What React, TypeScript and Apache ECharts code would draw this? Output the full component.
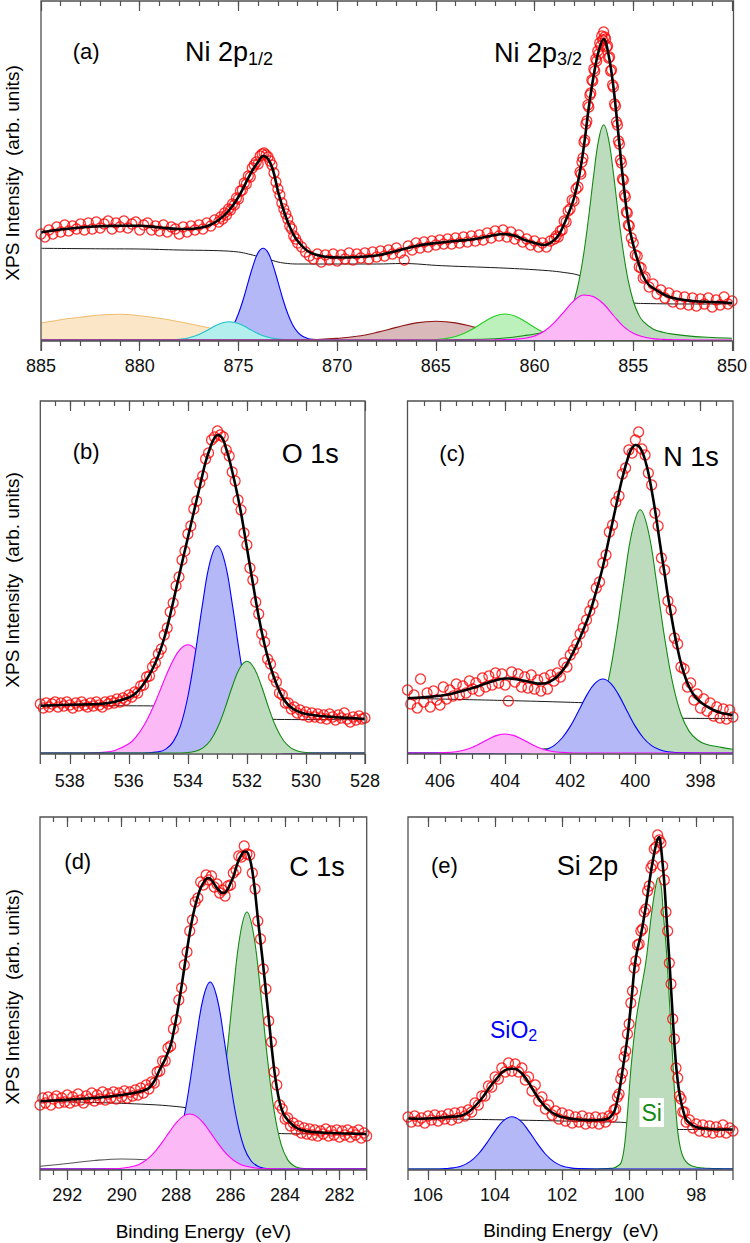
import React, { useEffect, useRef } from "react";
import * as echarts from "echarts";

type Pt = [number, number];

// ---------------- (a) Ni 2p ----------------
const niTicks = [885, 880, 875, 870, 865, 860, 855, 850];

const niPoints: Pt[] = [
  [885,106],[884.8,103],[884.6,110],[884.4,106],[884.2,113],[884,108],[883.8,115],[883.6,109],[883.4,114],[883.2,111],
  [883,116],[882.8,110],[882.6,117],[882.4,111],[882.2,118],[882,112],[881.8,116],[881.6,119],[881.4,111],[881.2,117],
  [881,113],[880.8,119],[880.6,112],[880.4,116],[880.2,118],[880,110],[879.8,115],[879.6,117],[879.4,110],[879.2,114],
  [879,109],[878.8,115],[878.6,108],[878.4,113],[878.2,111],[878,106],[877.8,113],[877.6,108],[877.4,114],[877.2,110],
  [877,115],[876.8,111],[876.6,117],[876.4,114],[876.2,120],[876,118],
  [875.9,123],[875.8,121],[875.7,127],[875.6,125],[875.5,131],[875.4,130],[875.3,136],[875.2,135],[875.1,142],[875,141],
  [874.9,149],[874.8,150],[874.7,157],[874.6,156],[874.5,164],[874.4,163],[874.3,172],[874.2,175],[874.1,178],[874,176],
  [873.9,184],[873.8,186],[873.7,187],[873.6,185],[873.5,183],[873.4,179],[873.3,175],[873.2,167],[873.1,158],[873,151],
  [872.9,145],[872.8,137],[872.7,131],[872.6,126],[872.5,121],[872.4,114],[872.3,111],[872.2,104],[872.1,101],[872,97],
  [871.8,93],[871.6,88],[871.4,84],[871.2,81],[871,86],[870.8,78],[870.6,85],[870.4,80],[870.2,86],[870,79],
  [869.8,85],[869.6,81],[869.4,87],[869.2,80],[869,86],[868.8,82],[868.6,87],[868.4,81],[868.2,88],[868,83],
  [867.8,89],[867.6,84],[867.4,90],[867.2,86],[867,92],[866.8,87],[866.6,80],[866.4,94],[866.2,90],[866,97],
  [865.8,92],[865.6,98],[865.4,93],[865.2,99],[865,95],[864.8,100],[864.6,96],[864.4,101],[864.2,96],[864,102],
  [863.8,97],[863.6,103],[863.4,98],[863.2,104],[863,99],[862.8,105],[862.6,100],[862.4,107],[862.2,102],[862,109],
  [861.8,104],[861.6,110],[861.4,103],[861.2,108],[861,101],[860.8,105],[860.6,98],[860.4,101],[860.2,95],[860,99],
  [859.8,93],[859.6,97],[859.4,93],[859.2,99],[859,101],
  [858.9,104],[858.8,103],[858.7,109],[858.6,110],[858.5,119],[858.4,118],[858.3,129],[858.2,131],[858.1,140],[858,139],
  [857.9,151],[857.8,153],[857.7,168],[857.65,166],[857.6,178],[857.55,182],[857.5,198],[857.45,200],[857.4,216],[857.35,219],
  [857.3,235],[857.25,233],[857.2,245],[857.15,247],[857.1,260],[857.05,259],[857,271],[856.95,269],[856.9,281],[856.85,279],
  [856.8,289],[856.75,286],[856.7,297],[856.65,294],[856.6,304],[856.55,300],[856.5,308],[856.45,303],[856.4,301],[856.35,293],
  [856.3,294],[856.25,282],[856.2,283],[856.15,269],[856.1,270],[856.05,255],[856,253],[855.95,236],[855.9,234],[855.85,218],
  [855.8,215],[855.75,199],[855.7,196],[855.65,180],[855.6,177],[855.55,161],[855.5,160],[855.45,145],[855.4,143],[855.35,128],
  [855.3,127],[855.25,115],[855.2,114],[855.1,102],[855,97],[854.9,85],[854.8,84],[854.7,73],[854.6,72],[854.5,62],
  [854.4,63],[854.2,53],[854,56],[853.8,46],[853.6,50],[853.4,42],[853.2,47],[853,38],[852.8,44],[852.6,36],
  [852.4,43],[852.2,35],[852,42],[851.8,34],[851.6,41],[851.4,36],[851.2,42],[851,33],[850.8,40],[850.6,35],
  [850.4,43],[850.2,36],[850,39],
];

const niEnvelope: Pt[] = [
  [885,107.7],[884,110.5],[883,112.5],[882,113.7],[881,114.3],[880,114.3],[879,112.5],[878,111],[877.5,111],[877,112],
  [876.5,114.5],[876,120],[875.5,129],[875,143],[874.5,162],[874.25,171],[874,178],[873.75,184],[873.5,181],[873.25,170],
  [873,149],[872.75,132],[872.5,118],[872.25,107],[872,99],[871.5,89],[871,85],[870.5,83],[870,82.5],[869,83],
  [868,84.5],[867,89],[866,94],[865,97],[864,99],[863,101],[862,105],[861.6,106],[861,104.3],[860.5,100],
  [860,97],[859.5,95],[859,100],[858.75,106],[858.5,116],[858.25,128],[858,142],[857.75,163],[857.5,194],[857.25,233],
  [857,265],[856.75,289],[856.5,301],[856.25,285],[856,252],[855.75,205],[855.5,157],[855.25,118],[855,95],[854.75,78],
  [854.5,64],[854.25,56],[854,52],[853.5,46],[853,42],[852,39],[851,38],[850,37],
];

const niBackground: Pt[] = [
  [885,91.7],[882,91.2],[880,91],[878,90],[876,89.3],[875,88],[874.5,86],[874,83.5],[873.5,81],[873,78],
  [872.5,76.5],[872,76],[868,76],[866.7,76.5],[864.7,74.3],[861.3,71.7],[859.3,69.3],[858.5,67.5],[857.8,65],[857.4,61],
  [857,55],[856.5,48],[856,42],[855.5,38.5],[855,37],[854.5,36.5],[852,36],[850,36],
];

const niSat881: Pt[] = [
  [885,17],[884,20.3],[883,22.7],[882,25],[881,25.7],[880,24.3],[879,21.7],[878,18.3],[877,14.3],[876,10.3],
  [875,7],[874,4.3],[873,2.5],[872,1.2],[871,0.5],[870,0.1],[869,0],[850,0],
];
const niSat875: Pt[] = [
  [885,0],[879,0],[878.5,0.2],[878,0.7],[877.5,2.3],[877,5.5],[876.5,10.6],[876,15.8],[875.5,18.3],[875,16.6],
  [874.5,11.6],[874,6.3],[873.5,2.8],[873,0.9],[872.5,0.3],[872,0],[850,0],
];
const niPeak874: Pt[] = [
  [885,0],[877,0],[876.5,0.1],[876.25,0.6],[876,1.6],[875.75,3.7],[875.5,7.9],[875.25,15.1],[875,26.2],[874.75,41],
  [874.5,58.4],[874.25,74.9],[874,87.4],[873.75,91.7],[873.5,87.4],[873.25,74.9],[873,58.4],[872.75,41],[872.5,26.2],[872.25,15.1],
  [872,7.9],[871.75,3.7],[871.5,1.6],[871.25,0.6],[871,0.1],[870.5,0],[850,0],
];
const niSat865: Pt[] = [
  [885,0],[873,0],[872,0.1],[871,0.5],[870,1.6],[869,3.7],[868,7.6],[867,12.6],[866,17.1],[865,18.7],
  [864,17.1],[863,12.6],[862,7.6],[861,3.7],[860,1.6],[859,0.5],[858,0.1],[857,0],[850,0],
];
const niSat861: Pt[] = [
  [885,0],[866,0],[865.5,0.1],[865,0.5],[864.5,1.5],[864,3.5],[863.5,7.3],[863,12.6],[862.5,18.8],[862,24.1],
  [861.5,26],[861,24.1],[860.5,18.8],[860,12.6],[859.5,7.3],[859,3.5],[858.5,1.5],[858,0.5],[857.5,0.1],[857,0],[850,0],
];
const niPeak856: Pt[] = [
  [885,0],[866,0],[864,0.4],[862,1.2],[860.5,4.5],[859.5,7.8],[859,11.1],[858.5,18.6],[858.25,26.2],[858,39],
  [857.75,58.8],[857.5,87.5],[857.25,124.5],[857,165.6],[856.75,200.7],[856.5,215.3],[856.25,200.7],[856,165.6],[855.75,124.5],[855.5,87.5],
  [855.25,58.8],[855,39],[854.75,26.2],[854.5,18.6],[854,11.1],[853.5,7.8],[853,5.9],[852,3.6],[851,2.5],[850,1.8],
];
const niPeak857: Pt[] = [
  [885,0],[863,0],[862,0.1],[861.5,0.35],[861,0.8],[860.5,1.8],[860,4],[859.5,9],[859,17.4],[858.5,28.4],
  [858,39.4],[857.5,45],[857,43.3],[856.5,36],[856,24.5],[855.5,13.6],[855,6.8],[854.5,3.2],[854,1.4],[853.5,0.6],
  [853,0.3],[852,0.05],[851,0],[850,0],
];

// ---------------- (b) O 1s ----------------
const o1sTicks = [538, 536, 534, 532, 530, 528];

const o1sPoints: Pt[] = [
  [539,49],[538.9,45],[538.8,50],[538.7,46],[538.6,49],[538.5,51],[538.4,46],[538.3,50],[538.2,47],[538.1,51],
  [538,48],[537.9,45],[537.8,50],[537.7,47],[537.6,51],[537.5,48],[537.4,46],[537.3,50],[537.2,47],[537.1,51],
  [537,48],[536.9,46],[536.8,51],[536.7,49],[536.6,52],[536.5,50],[536.4,54],[536.3,51],[536.2,55],[536.1,53],
  [536,58],[535.9,56],[535.8,61],[535.7,60],[535.6,67],[535.5,68],[535.4,76],[535.3,77],[535.2,86],[535.1,90],
  [535,99],[534.9,104],[534.8,118],[534.7,125],[534.6,141],[534.5,150],[534.4,167],[534.3,176],[534.2,193],[534.1,202],
  [534,219],[533.9,227],[533.8,244],[533.7,252],[533.6,270],[533.5,277],[533.4,294],[533.3,300],[533.2,313],[533.1,316],
  [533,322],[532.9,318],[532.8,316],[532.7,303],[532.6,297],[532.5,281],[532.4,272],[532.3,253],[532.2,243],[532.1,220],
  [532,208],[531.9,185],[531.8,173],[531.7,151],[531.6,139],[531.5,119],[531.4,111],[531.3,94],[531.2,89],[531.1,76],
  [531,71],[530.9,60],[530.8,58],[530.7,50],[530.6,50],[530.5,44],[530.4,46],[530.3,40],[530.2,43],[530.1,38],
  [530,41],[529.9,36],[529.8,40],[529.7,36],[529.6,39],[529.5,35],[529.4,38],[529.3,34],[529.2,39],[529.1,36],
  [529,33],[528.9,38],[528.8,35],[528.7,40],[528.6,34],[528.5,31],[528.4,36],[528.3,33],[528.2,37],[528.1,34],
  [528,35],
];

const o1sEnvelope: Pt[] = [
  [539,47.3],[538,48.3],[537,49],[536.5,51],[536,55.5],[535.8,59],[535.6,65],[535.4,73.5],[535.2,84],[535,97.5],
  [534.8,115],[534.6,138],[534.4,164],[534.2,190],[534,215.5],[533.8,241],[533.6,266],[533.4,291],[533.2,309],[533.1,315],
  [533,318],[532.9,317],[532.8,313],[532.7,304],[532.6,294],[532.4,269],[532.2,240],[532,205],[531.8,170],[531.6,136],
  [531.4,108],[531.2,86],[531,69],[530.8,56],[530.6,48],[530.4,43.5],[530.2,40.7],[530,39],[529.5,37],[529,35.8],
  [528.5,35],[528,34],
];

const o1sBackground: Pt[] = [
  [539,47.3],[536,47.2],[535,47],[534.5,46.5],[534,45.5],[533.5,43.5],[533,40.5],[532.5,37.5],[532,35.5],[531.5,34.2],
  [531,33.6],[530,33.4],[528,33.3],
];

const o1sPeak534: Pt[] = [
  [539,0],[537.5,0],[537,0.4],[536.5,2.3],[536,9.2],[535.75,16.4],[535.5,27],[535.25,41.3],[535,58.4],[534.75,76.6],
  [534.5,92.8],[534.25,104.2],[534,108.3],[533.75,104.2],[533.5,92.8],[533.25,76.6],[533,58.4],[532.75,41.3],[532.5,27],[532.25,16.4],
  [532,9.2],[531.5,2.3],[531,0.4],[530.5,0],[528,0],
];
const o1sPeak533: Pt[] = [
  [539,0],[535.5,0],[535,1.1],[534.75,3.9],[534.5,11.1],[534.25,27.2],[534,56.5],[533.75,99.7],[533.5,149.7],[533.25,191.1],
  [533,207.3],[532.75,191.1],[532.5,149.7],[532.25,99.7],[532,56.5],[531.75,27.2],[531.5,11.1],[531.25,3.9],[531,1.1],[530.5,0],[528,0],
];
const o1sPeak532: Pt[] = [
  [539,0],[534.5,0],[534,0.5],[533.75,1.7],[533.5,4.9],[533.25,12],[533,24.9],[532.75,44.1],[532.5,66.2],[532.25,84.5],
  [532,91.7],[531.75,84.5],[531.5,66.2],[531.25,44.1],[531,24.9],[530.75,12],[530.5,4.9],[530.25,1.7],[530,0.5],[529.5,0],[528,0],
];

// ---------------- (c) N 1s ----------------
const n1sTicks = [406, 404, 402, 400, 398];

const n1sPoints: Pt[] = [
  [407,63],[406.9,49],[406.8,58],[406.7,45],[406.6,74],[406.5,51],[406.4,60],[406.3,46],[406.2,62],[406.1,53],
  [406,48],[405.9,66],[405.8,54],[405.7,63],[405.6,57],[405.5,69],[405.4,58],[405.3,67],[405.2,60],[405.1,72],
  [405,64],[404.9,70],[404.8,62],[404.7,75],[404.6,66],[404.5,77],[404.4,68],[404.3,80],[404.2,70],[404.1,79],
  [404,68],[403.9,52],[403.8,81],[403.7,71],[403.6,79],[403.5,66],[403.4,76],[403.3,65],[403.2,78],[403.1,64],
  [403,73],[402.9,62],[402.8,75],[402.7,64],[402.6,78],[402.5,72],[402.4,80],[402.3,76],[402.2,90],[402.1,86],
  [402,98],[401.9,103],[401.8,109],[401.7,119],[401.6,125],[401.5,133],[401.4,142],[401.3,149],[401.2,165],[401.1,171],
  [401,190],[400.9,198],[400.8,221],[400.7,228],[400.6,251],[400.5,257],[400.4,279],[400.3,285],[400.2,303],[400.1,300],
  [400,313],[399.9,321],[399.8,304],[399.7,298],[399.6,280],[399.5,268],[399.4,240],[399.3,227],[399.2,195],[399.1,183],
  [399,152],[398.9,143],[398.8,115],[398.7,109],[398.6,86],[398.5,84],[398.4,66],[398.3,70],[398.2,53],[398.1,59],
  [398,45],[397.9,54],[397.8,42],[397.7,50],[397.6,37],[397.5,46],[397.4,35],[397.3,44],[397.2,34],[397.1,43],
  [397,36],
];

const n1sEnvelope: Pt[] = [
  [407,54.7],[406.5,55.8],[406,57.2],[405.5,60.5],[405,65],[404.5,70.5],[404.2,73.4],[404,74.5],[403.8,74.4],[403.6,73.5],
  [403.4,72.2],[403.2,70.8],[403,69.4],[402.8,69.5],[402.6,71.8],[402.4,76.5],[402.2,84],[402,95],[401.8,108],[401.6,123],
  [401.4,140],[401.2,162],[401,186],[400.8,216],[400.6,246],[400.4,275],[400.2,298],[400.1,305],[400,308],[399.9,307],
  [399.8,302],[399.7,293],[399.6,280],[399.5,263],[399.4,244],[399.3,222],[399.2,200],[399.1,179],[399,157],[398.9,138],
  [398.8,120],[398.7,104],[398.6,90],[398.5,79],[398.4,70],[398.3,63],[398.2,58],[398.1,54],[398,51],[397.8,46.5],
  [397.6,43],[397.4,40.5],[397.2,39],[397,38],
];

const n1sBackground: Pt[] = [
  [407,54.7],[404,52.5],[402,50.7],[401.5,50],[401,48.5],[400.5,45.5],[400,41],[399.5,37],[399,35.2],[398.5,34.7],[397,34.5],
];

const n1sPeak404: Pt[] = [
  [407,0],[406.2,0],[406,0.17],[405.5,1.3],[405.25,3],[405,5.8],[404.75,9.8],[404.5,14.1],[404.25,17.6],[404,19],
  [403.75,17.6],[403.5,14.1],[403.25,9.8],[403,5.8],[402.75,3],[402.5,1.3],[402,0.17],[401.8,0],[397,0],
];
const n1sPeak401: Pt[] = [
  [407,0],[403.5,0],[403,1.2],[402.75,3.2],[402.5,7.4],[402.25,15],[402,26.6],[401.75,41.7],[401.5,57.4],[401.25,69.4],
  [401,74],[400.75,69.4],[400.5,57.4],[400.25,41.7],[400,26.6],[399.75,15],[399.5,7.4],[399.25,3.2],[399,1.2],[398.5,0.1],
  [398,0],[397,0],
];
const n1sPeak400: Pt[] = [
  [407,0],[404.5,0],[403.85,1.5],[402.85,4],[402.35,5.6],[401.85,9.1],[401.6,13.3],[401.35,21.9],[401.1,39],[400.85,69.3],
  [400.6,115],[400.35,171],[400.1,221.7],[399.85,243.3],[399.6,221.7],[399.35,171],[399.1,115],[398.85,69.3],[398.6,39],[398.35,21.9],
  [398.1,13.3],[397.85,9.1],[397.35,5.6],[397,3.8],
];

// ---------------- (d) C 1s ----------------
const c1sTicks = [292, 290, 288, 286, 284, 282];

const c1sPoints: Pt[] = [
  [293,64],[292.9,71],[292.8,66],[292.7,72],[292.6,64],[292.5,70],[292.4,73],[292.3,66],[292.2,71],[292.1,67],
  [292,74],[291.9,66],[291.8,72],[291.7,68],[291.6,75],[291.5,69],[291.4,66],[291.3,73],[291.2,70],[291.1,76],
  [291,68],[290.9,74],[290.8,70],[290.7,77],[290.6,69],[290.5,75],[290.4,71],[290.3,77],[290.2,70],[290.1,76],
  [290,72],[289.9,78],[289.8,71],[289.7,77],[289.6,73],[289.5,79],[289.4,74],[289.3,81],[289.2,76],[289.1,84],
  [289,80],[288.9,87],[288.8,86],[288.7,97],[288.6,98],[288.5,108],[288.4,108],[288.3,121],[288.2,123],[288.1,140],
  [288,149],[287.9,169],[287.8,181],[287.7,204],[287.6,217],[287.5,238],[287.4,249],[287.3,267],[287.2,271],[287.1,287],
  [287,284],[286.9,294],[286.8,289],[286.7,293],[286.6,282],[286.5,285],[286.4,276],[286.3,279],[286.2,273],[286.1,283],
  [286,284],[285.9,296],[285.8,299],[285.7,313],[285.6,312],[285.5,323],[285.4,315],[285.3,314],[285.2,296],[285.1,280],
  [285,248],[284.9,230],[284.8,200],[284.7,180],[284.6,148],[284.5,127],[284.4,97],[284.3,84],[284.2,64],[284.1,60],
  [284,50],[283.9,51],[283.8,43],[283.7,46],[283.6,39],[283.5,43],[283.4,36],[283.3,41],[283.2,35],[283.1,40],
  [283,34],[282.9,39],[282.8,33],[282.7,38],[282.6,35],[282.5,40],[282.4,33],[282.3,38],[282.2,34],[282.1,39],
  [282,32],[281.9,38],[281.8,34],[281.7,39],[281.6,32],[281.5,37],[281.4,34],[281.3,39],[281.2,31],[281.1,36],
  [281,33],
];

const c1sEnvelope: Pt[] = [
  [293,67.7],[292,69.3],[291,71],[290,74],[289.5,76.3],[289.2,78.5],[289,81],[288.8,88],[288.6,99.5],[288.4,110],
  [288.2,124],[288.1,136],[288,150],[287.9,166],[287.8,183],[287.7,201],[287.6,219],[287.5,236],[287.4,251],[287.3,263],
  [287.2,273],[287.1,281],[287,286],[286.9,290],[286.8,291],[286.7,289],[286.6,285],[286.5,281],[286.4,278],[286.3,276],
  [286.2,276.5],[286.1,280],[286,286],[285.9,292],[285.8,301],[285.7,309],[285.6,314],[285.5,317.5],[285.4,317],[285.3,311],
  [285.2,298],[285.1,277],[285,251],[284.9,227],[284.8,203],[284.7,177],[284.6,151],[284.5,124],[284.4,100],[284.3,81],
  [284.2,67],[284.1,58],[284,52.5],[283.8,46],[283.6,41.5],[283.4,39],[283,37],[282.5,36.3],[282,35.8],[281,35],
];

const c1sBackground: Pt[] = [
  [293,67.7],[291,66.5],[289,64.5],[288,62.5],[287.5,60.5],[287,57],[286.5,53],[286,48.5],[285.5,44],[285,39.5],
  [284.5,36.5],[284,35.3],[281,35],
];

const c1sPeak290: Pt[] = [
  [293,2.7],[292,5.5],[291,8.5],[290,10],[289,9],[288,6],[287,3],[286,1],[285,0.2],[284,0],[281,0],
];
const c1sPeak287: Pt[] = [
  [293,0],[291,0],[290.5,0.1],[290,0.7],[289.5,3.2],[289.25,6.3],[289,11.2],[288.75,18.2],[288.5,27.1],[288.25,36.9],
  [288,46.1],[287.75,52.6],[287.5,55],[287.25,52.6],[287,46.1],[286.75,36.9],[286.5,27.1],[286.25,18.2],[286,11.2],[285.75,6.3],
  [285.5,3.2],[285,0.7],[284.5,0.1],[284,0],[281,0],
];
const c1sPeak286: Pt[] = [
  [293,0],[289,0],[288.75,0.7],[288.5,2.7],[288.25,8.2],[288,21.3],[287.75,46.6],[287.5,85.6],[287.25,132.2],[287,171.5],
  [286.75,187],[286.5,171.5],[286.25,132.2],[286,85.6],[285.75,46.6],[285.5,21.3],[285.25,8.2],[285,2.7],[284.75,0.7],[284.5,0],[281,0],
];
const c1sPeak285: Pt[] = [
  [293,0],[288,0],[287.4,0.7],[287.15,2.7],[286.9,9.1],[286.65,25.1],[286.4,58.1],[286.15,111.6],[285.9,177.4],[285.65,234],
  [285.4,257],[285.15,234],[284.9,177.4],[284.65,111.6],[284.4,58.1],[284.15,25.1],[283.9,9.1],[283.65,2.7],[283.4,0.7],[282.9,0],[281,0],
];

// ---------------- (e) Si 2p ----------------
const si2pTicks = [106, 104, 102, 100, 98];

const si2pPoints: Pt[] = [
  [106.6,52],[106.5,47],[106.4,53],[106.3,48],[106.2,51],[106.1,46],[106,53],[105.9,49],[105.8,54],[105.7,48],
  [105.6,53],[105.5,50],[105.4,55],[105.3,49],[105.2,56],[105.1,51],[105,57],[104.9,53],[104.8,59],[104.7,57],
  [104.6,66],[104.5,64],[104.4,73],[104.3,73],[104.2,83],[104.1,82],[104,92],[103.9,90],[103.8,101],[103.7,97],
  [103.6,106],[103.5,98],[103.4,105],[103.3,97],[103.2,101],[103.1,89],[103,92],[102.9,78],[102.8,84],[102.7,68],
  [102.6,72],[102.5,60],[102.4,64],[102.3,54],[102.2,58],[102.1,50],[102,56],[101.9,48],[101.8,54],[101.7,46],
  [101.6,52],[101.5,47],[101.4,53],[101.3,45],[101.2,51],[101.1,46],[101,52],[100.9,45],[100.8,51],[100.7,47],
  [100.6,53],[100.5,52],
  [100.45,59],[100.4,60],[100.35,72],[100.3,75],[100.25,90],[100.2,96],[100.15,112],[100.1,118],[100.05,135],[100,145],
  [99.95,166],[99.9,178],[99.85,201],[99.8,208],[99.75,224],[99.7,225],[99.65,238],[99.6,240],[99.55,257],[99.5,260],
  [99.45,278],[99.4,283],[99.35,301],[99.3,304],[99.25,320],[99.2,322],[99.15,334],[99.1,329],[99.05,326],[99,303],
  [98.95,289],[98.9,257],[98.85,238],[98.8,206],[98.75,185],[98.7,150],[98.65,130],[98.6,101],[98.55,91],[98.5,73],
  [98.45,70],[98.4,57],[98.35,57],[98.3,47],
  [98.2,49],[98.1,41],[98,45],[97.9,38],[97.8,44],[97.7,37],[97.6,43],[97.5,36],[97.4,42],[97.3,37],
  [97.2,44],[97.1,36],[97,41],[96.9,38],
];

const si2pEnvelope: Pt[] = [
  [106.6,50.5],[106.2,50.3],[105.8,50.9],[105.4,52.1],[105.1,52.8],[105,53.5],[104.9,54.8],[104.8,56.8],[104.7,59.5],[104.6,62.8],
  [104.5,66.5],[104.4,70.5],[104.3,75],[104.2,80],[104.1,84.5],[104,88.5],[103.9,92.5],[103.8,96.5],[103.7,98.8],[103.6,99.8],
  [103.5,100.2],[103.4,100],[103.3,98.5],[103.2,95.5],[103.1,91.5],[103,86.5],[102.9,81],[102.8,75.5],[102.7,70.5],[102.6,66],
  [102.5,62],[102.4,59],[102.3,56.5],[102.2,54.5],[102.1,53],[102,52],[101.8,50.6],[101.6,49.7],[101.4,49.2],[101.2,48.9],
  [101,48.8],[100.8,49.2],[100.7,49.8],[100.6,51],[100.5,54.5],[100.45,57],[100.4,62],[100.35,69],[100.3,77],[100.25,87],
  [100.2,98],[100.15,109],[100.1,120],[100.05,132],[100,147],[99.95,163],[99.9,180],[99.85,198],[99.8,211],[99.75,220],
  [99.7,227],[99.65,234],[99.6,243],[99.55,253],[99.5,263],[99.45,274],[99.4,286],[99.35,297],[99.3,307],[99.25,316],
  [99.2,324],[99.15,330],[99.1,332],[99.05,322],[99,305],[98.95,286],[98.9,260],[98.85,234],[98.8,209],[98.75,181],
  [98.7,153],[98.65,126],[98.6,104],[98.55,88],[98.5,76],[98.45,67],[98.4,60],[98.35,54],[98.3,49.5],[98.2,46],
  [98.1,43.5],[98,42],[97.8,40.5],[97.5,39.8],[97.2,39.5],[96.9,39.5],
];

const si2pBackground: Pt[] = [
  [106.6,50.5],[104,49.3],[102,48],[100.3,46.8],[100,46],[99.7,44.8],[99.4,43],[99.1,41],[98.8,39.8],[98.5,39.5],[96.9,39.5],
];

const si2pOxide: Pt[] = [
  [106.6,0],[105.75,0],[105.5,0.4],[105.25,1.1],[105,3.1],[104.75,7.4],[104.5,15],[104.25,25.9],[104,38.2],[103.75,48.3],
  [103.5,52.2],[103.25,48.3],[103,38.2],[102.75,25.9],[102.5,15],[102.25,7.4],[102,3.1],[101.75,1.1],[101.5,0.4],[101,0],[96.9,0],
];
const si2pElement: Pt[] = [
  [106.6,0],[101,0],[100.63,0.5],[100.44,1.2],[100.34,3],[100.24,6.2],[100.14,22.8],[100.04,59.5],[99.94,102.8],[99.79,149.5],
  [99.64,179.5],[99.49,209.5],[99.34,252.8],[99.19,286.2],[99.12,291.2],[99.04,282],[98.99,259.5],[98.89,219.5],[98.8,169.5],[98.7,109.5],
  [98.6,56.2],[98.5,26.2],[98.35,9.5],[98.1,2.8],[97.65,0.8],[97.2,0.3],[96.9,0.2],
];

// ---------------- styling ----------------
const FONT = '"Liberation Sans", Arial, Helvetica, sans-serif';
const FRAME = "#505050";

const COLORS = {
  blue: ["#0000ff", "#b4b8f6"],
  green: ["#138a13", "#bddcbd"],
  magenta: ["#ff00ff", "#fbbaf6"],
  orange: ["#f0bd72", "#fbe7c8"],
  cyan: ["#1cc3c9", "#b3efec"],
  brown: ["#8c1515", "#d9b9b9"],
  lime: ["#22d022", "#bcf1bc"],
  gray: ["#555555", ""],
};

interface Component { data: Pt[]; color: string[] }
interface Panel {
  left: number; top: number; width: number; height: number;
  min: number; max: number; ticks: number[]; minorStep: number; labelMargin: number;
  components: Component[]; background: Pt[]; envelope: Pt[]; points: Pt[];
}

const panels: Panel[] = [
  {
    left: 41, top: 1, width: 692.5, height: 340, min: 850, max: 885, ticks: niTicks, minorStep: 1, labelMargin: 16,
    components: [
      { data: niSat881, color: COLORS.orange },
      { data: niPeak874, color: COLORS.blue },
      { data: niSat875, color: COLORS.cyan },
      { data: niSat865, color: COLORS.brown },
      { data: niSat861, color: COLORS.lime },
      { data: niPeak856, color: COLORS.green },
      { data: niPeak857, color: COLORS.magenta },
    ],
    background: niBackground, envelope: niEnvelope, points: niPoints,
  },
  {
    left: 40.3, top: 401, width: 324.7, height: 353, min: 528, max: 539, ticks: o1sTicks, minorStep: 0.5, labelMargin: 18,
    components: [
      { data: o1sPeak534, color: COLORS.magenta },
      { data: o1sPeak533, color: COLORS.blue },
      { data: o1sPeak532, color: COLORS.green },
    ],
    background: o1sBackground, envelope: o1sEnvelope, points: o1sPoints,
  },
  {
    left: 407.5, top: 401, width: 325.5, height: 353, min: 397, max: 407, ticks: n1sTicks, minorStep: 0.5, labelMargin: 18,
    components: [
      { data: n1sPeak400, color: COLORS.green },
      { data: n1sPeak401, color: COLORS.blue },
      { data: n1sPeak404, color: COLORS.magenta },
    ],
    background: n1sBackground, envelope: n1sEnvelope, points: n1sPoints,
  },
  {
    left: 40, top: 817, width: 326.7, height: 353, min: 281, max: 293, ticks: c1sTicks, minorStep: 0.5, labelMargin: 16,
    components: [
      { data: c1sPeak290, color: COLORS.gray },
      { data: c1sPeak285, color: COLORS.green },
      { data: c1sPeak286, color: COLORS.blue },
      { data: c1sPeak287, color: COLORS.magenta },
    ],
    background: c1sBackground, envelope: c1sEnvelope, points: c1sPoints,
  },
  {
    left: 408, top: 817, width: 325, height: 353, min: 96.9, max: 106.6, ticks: si2pTicks, minorStep: 0.5, labelMargin: 16,
    components: [
      { data: si2pElement, color: COLORS.green },
      { data: si2pOxide, color: COLORS.blue },
    ],
    background: si2pBackground, envelope: si2pEnvelope, points: si2pPoints,
  },
];

function minorTicks(min: number, max: number, step: number): number[] {
  const out: number[] = [];
  const start = Math.ceil(min / step - 1e-9) * step;
  for (let v = start; v <= max + 1e-9; v += step) {
    const r = Math.round(v * 100) / 100;
    if (r - min > 0.15 && max - r > 0.15) out.push(r);
  }
  return out;
}

function buildOption() {
  const grid: any[] = [];
  const xAxis: any[] = [];
  const yAxis: any[] = [];
  const series: any[] = [];
  const graphic: any[] = [];
  const tickLine = { color: FRAME, width: 1.2 };

  panels.forEach((p, i) => {
    grid.push({ left: p.left, top: p.top, width: p.width, height: p.height, show: false });
    const minors = minorTicks(p.min, p.max, p.minorStep);
    const base = {
      type: "value", gridIndex: i, min: p.min, max: p.max, inverse: true,
      axisLine: { show: false, onZero: false }, splitLine: { show: false },
    };
    xAxis.push({
      ...base, position: "bottom",
      axisTick: { show: true, inside: false, length: 10, customValues: p.ticks, lineStyle: tickLine },
      axisLabel: { show: true, customValues: p.ticks, margin: p.labelMargin, fontSize: 18, fontFamily: FONT, color: "#111" },
    });
    xAxis.push({
      ...base, position: "bottom",
      axisTick: { show: true, inside: false, length: 5, customValues: minors, lineStyle: tickLine },
      axisLabel: { show: false },
    });
    xAxis.push({
      ...base, position: "top",
      axisTick: { show: true, inside: true, length: 10, customValues: p.ticks, lineStyle: tickLine },
      axisLabel: { show: false },
    });
    xAxis.push({
      ...base, position: "top",
      axisTick: { show: true, inside: true, length: 5, customValues: minors, lineStyle: tickLine },
      axisLabel: { show: false },
    });
    yAxis.push({ type: "value", gridIndex: i, min: -1, max: p.height - 1, show: false });

    const xi = i * 4;
    // stacking order: background under the fitted components, data and fit on top
    series.push({
      type: "line", xAxisIndex: xi, yAxisIndex: i, data: p.background, smooth: 0.4, z: 2,
      symbol: "none", lineStyle: { color: "#1a1a1a", width: 1 }, silent: true,
    });
    p.components.forEach((c, k) => {
      series.push({
        type: "line", xAxisIndex: xi, yAxisIndex: i, data: c.data, smooth: 0.4, z: 3 + k,
        symbol: "none", lineStyle: { color: c.color[0], width: 1.1 },
        areaStyle: c.color[1] ? { color: c.color[1], opacity: 1 } : undefined,
        silent: true,
      });
    });
    series.push({
      type: "scatter", xAxisIndex: xi, yAxisIndex: i, data: p.points, symbol: "circle", symbolSize: 10, z: 30,
      itemStyle: { color: "rgba(0,0,0,0)", borderColor: "#ff0000", borderWidth: 1.3 }, clip: false, silent: true,
    });
    series.push({
      type: "line", xAxisIndex: xi, yAxisIndex: i, data: p.envelope, smooth: 0.4, z: 31,
      symbol: "none", lineStyle: { color: "#000", width: 2.6 }, silent: true,
    });

    const L = p.left, T = p.top, R = p.left + p.width, B = p.top + p.height;
    graphic.push({
      type: "polyline", silent: true, z: 100,
      shape: { points: [[L, B + 10], [L, T], [R, T], [R, B + 10]] },
      style: { stroke: FRAME, fill: "none", lineWidth: 1.3 },
    });
    graphic.push({
      type: "line", silent: true, z: 100,
      shape: { x1: L, y1: B, x2: R, y2: B },
      style: { stroke: FRAME, lineWidth: 1.3 },
    });
  });

  const txt = (x: number, y: number, text: string, size: number, extra: any = {}) => ({
    type: "text", x, y, silent: true, z: 101,
    style: { text, fontSize: size, fontFamily: FONT, fill: "#000", align: "left", verticalAlign: "middle", ...extra },
  });
  const sub = (x: number, y: number, main: string, low: string, size: number, subSize: number, color = "#000") => ({
    type: "text", x, y, silent: true, z: 101,
    style: {
      text: `{m|${main}}{s|${low}}`, align: "left", verticalAlign: "middle",
      rich: {
        m: { fontSize: size, fontFamily: FONT, fill: color, lineHeight: size + 4 },
        s: { fontSize: subSize, fontFamily: FONT, fill: color, lineHeight: 12, verticalAlign: "bottom" },
      },
    },
  });

  graphic.push(txt(72.7, 51, "(a)", 22));
  graphic.push(sub(185, 52, "Ni 2p", "1/2", 27, 18));
  graphic.push(sub(494, 52.5, "Ni 2p", "3/2", 27, 18));
  graphic.push(txt(72.7, 451.5, "(b)", 22));
  graphic.push(txt(281.7, 454, "O 1s", 27));
  graphic.push(txt(439.3, 453, "(c)", 22));
  graphic.push(txt(663.3, 457, "N 1s", 27));
  graphic.push(txt(64.3, 861.5, "(d)", 22));
  graphic.push(txt(289.3, 866.7, "C 1s", 27));
  graphic.push(txt(431, 865, "(e)", 22));
  graphic.push(txt(556.7, 866, "Si 2p", 27));
  graphic.push(sub(490, 1030, "SiO", "2", 23, 16, "#0000ff"));
  graphic.push(txt(651.7, 1112.5, "Si", 23, {
    align: "center", fill: "#138a13", backgroundColor: "#ffffff", padding: [3, 2, 3, 2],
  }));

  const yLabel = "XPS Intensity  (arb. units)";
  [173, 580, 997].forEach((cy) => {
    graphic.push({
      type: "text", x: 12.5, y: cy, rotation: Math.PI / 2, silent: true, z: 101,
      style: { text: yLabel, fontSize: 19, fontFamily: FONT, fill: "#000", align: "center", verticalAlign: "middle" },
    });
  });
  [[203.3, 1231.7], [570.8, 1230]].forEach(([cx, cy]) => {
    graphic.push({
      type: "text", x: cx, y: cy, silent: true, z: 101,
      style: { text: "Binding Energy  (eV)", fontSize: 19, fontFamily: FONT, fill: "#000", align: "center", verticalAlign: "middle" },
    });
  });

  return { animation: false, backgroundColor: "#ffffff", grid, xAxis, yAxis, series, graphic };
}

export default function App() {
  const ref = useRef<HTMLDivElement>(null);
  useEffect(() => {
    if (!ref.current) return;
    const chart = echarts.init(ref.current, undefined, { renderer: "svg" });
    chart.setOption(buildOption() as any);
    return () => chart.dispose();
  }, []);
  return (
    <div
      ref={ref}
      style={{ position: "absolute", left: 0, top: 0, width: 750, height: 1243, background: "#fff" }}
    />
  );
}
